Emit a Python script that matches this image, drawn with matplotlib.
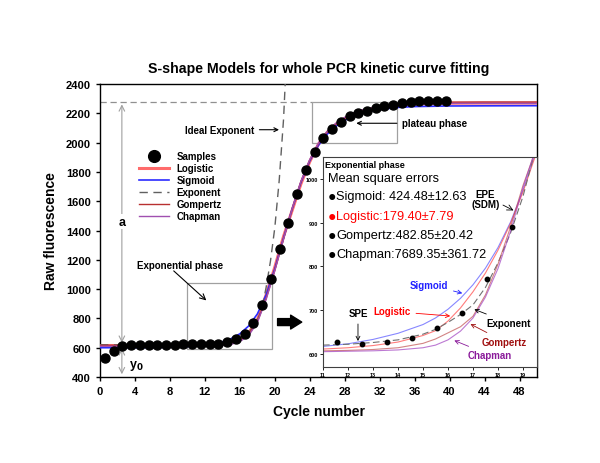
import matplotlib
matplotlib.use('Agg')
import matplotlib.pyplot as plt
from matplotlib.patches import Rectangle

plt.rcParams['font.family'] = ['Liberation Sans', 'DejaVu Sans']
plt.rcParams['font.weight'] = 'bold'

# sample points (raw fluorescence per cycle)
cycles = [0.55, 1.55, 2.55, 3.55, 4.55, 5.55, 6.55, 7.55, 8.55, 9.55,
          10.55, 11.55, 12.55, 13.55, 14.55, 15.55, 16.55, 17.55, 18.55, 19.55,
          20.55, 21.55, 22.55, 23.55, 24.55, 25.55, 26.55, 27.55, 28.55, 29.55,
          30.55, 31.55, 32.55, 33.55, 34.55, 35.55, 36.55, 37.55, 38.55, 39.55]
fluor = [530, 580, 612, 620, 620, 621, 621, 621, 621, 622,
         622, 627, 623, 628, 637, 659, 694, 770, 890, 1069,
         1277, 1451, 1647, 1811, 1936, 2033, 2096, 2143, 2180, 2202,
         2218, 2234, 2248, 2257, 2268, 2275, 2282, 2284, 2284, 2284]

# fitted curves
xm = [0, 2, 4, 6, 8, 10, 12, 13, 14, 15, 16, 17, 18, 19, 20, 21, 22, 23, 24, 25,
      26, 27, 28, 29, 30, 32, 34, 36, 40, 44, 50]
logistic_main = [615, 615, 615, 615, 616, 617, 620, 624, 630, 642, 662, 700, 790, 960, 1150,
                 1360, 1540, 1720, 1870, 1990, 2070, 2125, 2165, 2195, 2215, 2243, 2257,
                 2264, 2269, 2270, 2270]
sigmoid_main = [600, 600, 600, 601, 603, 608, 618, 627, 640, 662, 695, 748, 830, 960, 1140,
                1350, 1550, 1730, 1875, 1982, 2058, 2112, 2152, 2182, 2202, 2226, 2240,
                2246, 2250, 2251, 2252]
gompertz_main = [616, 616, 616, 616, 616, 616, 617, 619, 623, 633, 653, 693, 780, 935, 1130,
                 1345, 1550, 1735, 1880, 1992, 2072, 2128, 2170, 2200, 2222, 2250, 2265,
                 2272, 2276, 2277, 2277]
chapman_main = [610, 610, 610, 610, 610, 610, 611, 612, 615, 623, 642, 682, 772, 928, 1125,
                1342, 1552, 1738, 1885, 1998, 2078, 2133, 2172, 2202, 2224, 2248, 2260,
                2265, 2268, 2268, 2268]
xe = [0, 4, 8, 10, 12, 13, 14, 15, 16, 17, 18, 18.5, 19, 19.5, 20, 20.5, 21, 21.5]
exponent_main = [620, 620, 620, 620, 623, 626, 632, 642, 660, 700, 790, 860, 1010, 1190,
                 1420, 1740, 2160, 2800]

# curves in the exponential-phase inset
xi = [11, 12, 13, 14, 15, 15.5, 16, 16.5, 17, 17.5, 18, 18.5, 19, 19.6]
sigmoid_in = [617, 623, 633, 647, 667, 682, 702, 727, 758, 796, 843, 901, 974, 1075]
logistic_in = [611, 614, 619, 627, 642, 653, 675, 705, 742, 785, 837, 898, 970, 1070]
exponent_in = [620, 622, 626, 632, 645, 656, 672, 690, 712, 752, 808, 876, 960, 1090]
gompertz_in = [607, 608, 610, 614, 624, 634, 648, 662, 686, 735, 805, 890, 985, 1080]
chapman_in = [605, 606, 607, 609, 614, 620, 632, 652, 682, 730, 795, 880, 980, 1085]

mse_labels = ['Sigmoid: 424.48\u00b112.63', 'Logistic:179.40\u00b17.79',
              'Gompertz:482.85\u00b120.42', 'Chapman:7689.35\u00b1361.72']
mse_colors = ['black', 'red', 'black', 'black']

c_log = '#ff6b6b'
c_sig = '#2b2bff'
c_gom = '#b83030'
c_cha = '#a050b0'
c_exp = '#606060'

fig = plt.figure(figsize=(6, 4.64), dpi=100)
ax = fig.add_axes([0.1667, 0.1853, 0.7283, 0.6315])

ax.plot(xm, logistic_main, color=c_log, lw=2.2, label='Logistic', zorder=3)
ax.plot(xm, sigmoid_main, color=c_sig, lw=1.2, label='Sigmoid', zorder=3)
ax.plot(xe, exponent_main, color=c_exp, lw=1, ls=(0, (6, 4)), label='Exponent', zorder=3)
ax.plot(xm, gompertz_main, color=c_gom, lw=1, label='Gompertz', zorder=3)
ax.plot(xm, chapman_main, color=c_cha, lw=1, label='Chapman', zorder=3)
ax.plot(cycles, fluor, 'o', color='black', ms=6.5, label='Samples', zorder=4)

ax.set_xlim(0, 50)
ax.set_ylim(400, 2400)
ax.set_xticks(range(0, 49, 4))
ax.set_yticks(range(400, 2401, 200))
ax.tick_params(direction='out', length=3, width=1, labelsize=8)
for s in ax.spines.values():
    s.set_linewidth(1)
ax.set_xlabel('Cycle number', fontsize=10, fontweight='bold', labelpad=6)
ax.set_ylabel('Raw fluorescence', fontsize=10, fontweight='bold', labelpad=6)
ax.set_title('S-shape Models for whole PCR kinetic curve fitting', fontsize=10.2,
             fontweight='bold', pad=9)

h, l = ax.get_legend_handles_labels()
order = [5, 0, 1, 2, 3, 4]
leg = ax.legend([h[i] for i in order], [l[i] for i in order], loc='upper left',
                bbox_to_anchor=(0.07, 0.80), frameon=False, fontsize=7,
                handlelength=3.0, labelspacing=0.2, handletextpad=0.8,
                markerscale=1.3)

# guide lines and boxes
ax.plot([0, 24.3], [2280, 2280], color='#909090', lw=0.9, ls=(0, (5, 3)), zorder=1)
ax.add_patch(Rectangle((24.3, 1995), 9.7, 285, fill=False, ec='#a0a0a0', lw=0.9, zorder=1))
ax.add_patch(Rectangle((10.0, 591), 9.7, 449, fill=False, ec='#a0a0a0', lw=0.9, zorder=1))

ax.annotate('', xy=(2.5, 2280), xytext=(2.5, 615),
            arrowprops=dict(arrowstyle='<->', color='#a0a0a0', lw=0.8))
ax.text(2.5, 1460, 'a', ha='center', va='center', fontsize=9,
        bbox=dict(fc='white', ec='none', pad=1))
ax.annotate('', xy=(2.5, 400), xytext=(2.5, 615),
            arrowprops=dict(arrowstyle='<->', color='#a0a0a0', lw=0.8))
ax.text(3.3, 480, 'y$_\\mathbf{0}$', ha='left', va='center', fontsize=9)

ax.annotate('Ideal Exponent', xy=(20.8, 2088), xytext=(17.6, 2088), fontsize=7,
            ha='right', va='center',
            arrowprops=dict(arrowstyle='->', color='black', lw=0.8))
ax.annotate('plateau phase', xy=(29.0, 2132), xytext=(34.6, 2132), fontsize=7,
            ha='left', va='center',
            arrowprops=dict(arrowstyle='->', color='black', lw=0.8))
ax.text(4.2, 1165, 'Exponential phase', fontsize=7, ha='left', va='center')
ax.annotate('', xy=(12.4, 910), xytext=(8.2, 1137),
            arrowprops=dict(arrowstyle='->', color='black', lw=0.8))
ax.annotate('', xy=(23.4, 775), xytext=(20.0, 775),
            arrowprops=dict(arrowstyle='simple,head_length=0.8,head_width=1.0,tail_width=0.5',
                            color='black'))

# inset: exponential phase
ins = fig.add_axes([0.5383, 0.2069, 0.3567, 0.4526])
ins.plot(xi, sigmoid_in, color='#5555ff', lw=0.8, alpha=0.7)
ins.plot(xi, logistic_in, color='#ff4444', lw=0.8, alpha=0.7)
ins.plot(xi, exponent_in, color='#707070', lw=0.8, ls=(0, (6, 3)))
ins.plot(xi, gompertz_in, color='#c05050', lw=0.8, alpha=0.7)
ins.plot(xi, chapman_in, color='#a040c0', lw=0.8, alpha=0.7)
sel = [i for i, c in enumerate(cycles) if 11 <= c <= 19.5]
ins.plot([cycles[i] for i in sel], [fluor[i] for i in sel], 'o', color='black', ms=3.2)
ins.set_xlim(11, 19.56)
ins.set_ylim(570, 1050)
ins.set_xticks(range(11, 20))
ins.set_yticks(range(600, 1001, 100))
ins.tick_params(direction='out', length=2, width=0.6, labelsize=4, pad=1.5)
for s in ins.spines.values():
    s.set_linewidth(0.8)
    s.set_color('#404040')

ins.text(11.1, 1032, 'Exponential phase', fontsize=6.5, ha='left', va='center')
ins.text(11.2, 1003, 'Mean square errors', fontsize=9.2, fontweight='normal',
         ha='left', va='center')
for k, (lab, col) in enumerate(zip(mse_labels, mse_colors)):
    yk = 960 - k * 44
    ins.text(11.2, yk, '\u25cf', fontsize=10, color=col, ha='left', va='center')
    ins.text(11.53, yk, lab, fontsize=9.2, fontweight='normal',
             color=col, ha='left', va='center')

ins.text(17.5, 953, 'EPE\n(SDM)', fontsize=7, ha='center', va='center', linespacing=1.0)
ins.annotate('', xy=(18.72, 925), xytext=(18.1, 943),
             arrowprops=dict(arrowstyle='->', color='black', lw=0.6))
ins.annotate('Sigmoid', xy=(16.68, 737), xytext=(16.0, 758), color='#2020ff', fontsize=7,
             ha='right', va='center',
             arrowprops=dict(arrowstyle='->', color='#2020ff', lw=0.6))
ins.annotate('Logistic', xy=(16.2, 686), xytext=(14.5, 697), color='red', fontsize=7,
             ha='right', va='center',
             arrowprops=dict(arrowstyle='->', color='red', lw=0.6))
ins.annotate('SPE', xy=(12.4, 623), xytext=(12.4, 681), fontsize=7,
             ha='center', va='bottom',
             arrowprops=dict(arrowstyle='->', color='black', lw=0.6))
ins.annotate('Exponent', xy=(16.95, 704), xytext=(17.55, 671), fontsize=7,
             ha='left', va='center',
             arrowprops=dict(arrowstyle='->', color='black', lw=0.6))
ins.annotate('Gompertz', xy=(16.8, 671), xytext=(17.35, 628), color='#a01010', fontsize=7,
             ha='left', va='center',
             arrowprops=dict(arrowstyle='->', color='#a01010', lw=0.6))
ins.annotate('Chapman', xy=(16.15, 633), xytext=(16.8, 597), color='#8a1a9a', fontsize=7,
             ha='left', va='center',
             arrowprops=dict(arrowstyle='->', color='#8a1a9a', lw=0.6))

fig.savefig('out.png', dpi=100)
